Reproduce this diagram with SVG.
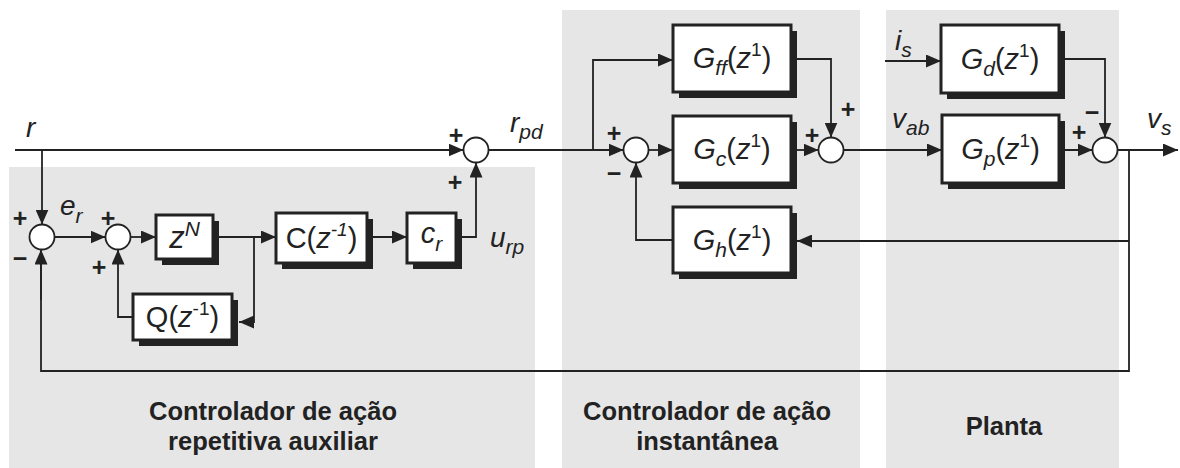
<svg xmlns="http://www.w3.org/2000/svg" width="1180" height="468" viewBox="0 0 1180 468">
<style>
.panel{fill:#e6e6e6}
.ln{fill:none;stroke:#222;stroke-width:1.8}
.arr{fill:none;stroke:#222;stroke-width:1.8;marker-end:url(#ah)}
.sh{fill:#222}
.bx{fill:#fff;stroke:#222;stroke-width:3}
.sj{fill:#fff;stroke:#222;stroke-width:1.8}
text{font-family:"Liberation Sans",Arial,sans-serif;fill:#222}
.bt{font-size:29px}
.it{font-style:italic}
.sub{font-size:21px;font-style:italic}
.sup{font-size:19px}
.lab{font-size:28px;font-style:italic}
.sg{font-size:25px;font-weight:bold}
.cap{font-size:25.5px;font-weight:bold;text-anchor:middle}
</style>
<defs>
<marker id="ah" markerUnits="userSpaceOnUse" markerWidth="15" markerHeight="13" refX="15" refY="6.5" orient="auto">
<path d="M0,0 L15,6.5 L0,13 Z" fill="#222"/>
</marker>
</defs>
<g id="panels">
<rect class="panel" x="9" y="167" width="526" height="301"/>
<rect class="panel" x="562" y="10" width="298" height="458"/>
<rect class="panel" x="886" y="10" width="233" height="458"/>
<text class="cap" x="273" y="420">Controlador de ação</text>
<text class="cap" x="273" y="450">repetitiva auxiliar</text>
<text class="cap" x="707" y="420">Controlador de ação</text>
<text class="cap" x="707" y="450">instantânea</text>
<text class="cap" x="1004" y="435">Planta</text>
</g>
<g id="connectors">
<path class="arr" d="M15,150 H463.5"/>
<path class="arr" d="M42,150 V224.5"/>
<path class="arr" d="M54.5,237 H105.5"/>
<path class="arr" d="M130.5,237 H156"/>
<path class="arr" d="M213,237 H276"/>
<path class="arr" d="M254,237 V322 H239"/>
<path class="arr" d="M133,317 H118 V249.5"/>
<path class="arr" d="M367,237 H407"/>
<path class="arr" d="M456,237 H476 V162.5"/>
<path class="arr" d="M488.5,150 H623.5"/>
<path class="arr" d="M593,150 V60 H673"/>
<path class="arr" d="M648.5,150 H673"/>
<path class="arr" d="M791,59 H831 V137.5"/>
<path class="arr" d="M791,150 H818.5"/>
<path class="arr" d="M843.5,150 H942"/>
<path class="arr" d="M885,61 H941"/>
<path class="arr" d="M1059,59 H1105 V137.5"/>
<path class="arr" d="M1059,150 H1092.5"/>
<path class="arr" d="M1117.5,150 H1178"/>
<path class="ln" d="M1129,150 V371 H41 V262"/>
<path class="arr" d="M41,300 V249.5"/>
<path class="arr" d="M1129,241 H797"/>
<path class="arr" d="M673,240 H636 V162.5"/>
</g>
<g id="S1"><circle class="sj" cx="42" cy="237" r="12.5"/>
<text class="sg" x="20" y="227" text-anchor="middle">+</text>
<text class="sg" x="20" y="267" text-anchor="middle">−</text></g>
<g id="S2"><circle class="sj" cx="118" cy="237" r="12.5"/>
<text class="sg" x="108" y="227" text-anchor="middle">+</text>
<text class="sg" x="99" y="276" text-anchor="middle">+</text></g>
<g id="S3"><circle class="sj" cx="476" cy="150" r="12.5"/>
<text class="sg" x="456" y="144" text-anchor="middle">+</text>
<text class="sg" x="455" y="191" text-anchor="middle">+</text></g>
<g id="S4"><circle class="sj" cx="636" cy="150" r="12.5"/>
<text class="sg" x="614" y="142" text-anchor="middle">+</text>
<text class="sg" x="614" y="182" text-anchor="middle">−</text></g>
<g id="S5"><circle class="sj" cx="831" cy="150" r="12.5"/>
<text class="sg" x="812" y="144" text-anchor="middle">+</text>
<text class="sg" x="848" y="118" text-anchor="middle">+</text></g>
<g id="S6"><circle class="sj" cx="1105" cy="150" r="12.5"/>
<text class="sg" x="1079" y="141" text-anchor="middle">+</text>
<text class="sg" x="1092" y="121" text-anchor="middle">−</text></g>
<g id="zN"><rect class="sh" x="162" y="221" width="57" height="44"/><rect class="bx" x="156" y="215" width="57" height="44"/>
<text x="184.5" y="248" text-anchor="middle" style="font-size:31px"><tspan class="it">z</tspan><tspan class="it" style="font-size:21px" dy="-12">N</tspan></text></g>
<g id="C"><rect class="sh" x="282" y="219" width="91" height="50"/><rect class="bx" x="276" y="213" width="91" height="50"/>
<text class="bt" x="321.5" y="248" text-anchor="middle">C(<tspan class="it">z</tspan><tspan class="sup it" dy="-12">-1</tspan><tspan dy="12">)</tspan></text></g>
<g id="cr"><rect class="sh" x="413" y="219" width="49" height="50"/><rect class="bx" x="407" y="213" width="49" height="50"/>
<text class="bt" x="431.5" y="243" text-anchor="middle"><tspan class="it">c</tspan><tspan class="sub" dy="8">r</tspan></text></g>
<g id="Q"><rect class="sh" x="139" y="300" width="99" height="46"/><rect class="bx" x="133" y="294" width="99" height="46"/>
<text class="bt" x="182.5" y="327" text-anchor="middle">Q(<tspan class="it">z</tspan><tspan class="sup" dy="-12">-1</tspan><tspan dy="12">)</tspan></text></g>
<g id="Gff"><rect class="sh" x="679" y="31" width="118" height="67"/><rect class="bx" x="673" y="25" width="118" height="67"/>
<text class="bt" x="732" y="68" text-anchor="middle"><tspan class="it">G</tspan><tspan class="sub" dy="7">ff</tspan><tspan dy="-7">(</tspan><tspan class="it">z</tspan><tspan class="sup" dy="-12">1</tspan><tspan dy="12">)</tspan></text></g>
<g id="Gc"><rect class="sh" x="679" y="122" width="118" height="67"/><rect class="bx" x="673" y="116" width="118" height="67"/>
<text class="bt" x="732" y="159" text-anchor="middle"><tspan class="it">G</tspan><tspan class="sub" dy="7">c</tspan><tspan dy="-7">(</tspan><tspan class="it">z</tspan><tspan class="sup" dy="-12">1</tspan><tspan dy="12">)</tspan></text></g>
<g id="Gh"><rect class="sh" x="679" y="213" width="118" height="66"/><rect class="bx" x="673" y="207" width="118" height="66"/>
<text class="bt" x="732" y="250" text-anchor="middle"><tspan class="it">G</tspan><tspan class="sub" dy="7">h</tspan><tspan dy="-7">(</tspan><tspan class="it">z</tspan><tspan class="sup" dy="-12">1</tspan><tspan dy="12">)</tspan></text></g>
<g id="Gd"><rect class="sh" x="947" y="31" width="118" height="68"/><rect class="bx" x="941" y="25" width="118" height="68"/>
<text class="bt" x="1000" y="69" text-anchor="middle"><tspan class="it">G</tspan><tspan class="sub" dy="7">d</tspan><tspan dy="-7">(</tspan><tspan class="it">z</tspan><tspan class="sup" dy="-12">1</tspan><tspan dy="12">)</tspan></text></g>
<g id="Gp"><rect class="sh" x="948" y="121" width="117" height="68"/><rect class="bx" x="942" y="115" width="117" height="68"/>
<text class="bt" x="1000.5" y="159" text-anchor="middle"><tspan class="it">G</tspan><tspan class="sub" dy="7">p</tspan><tspan dy="-7">(</tspan><tspan class="it">z</tspan><tspan class="sup" dy="-12">1</tspan><tspan dy="12">)</tspan></text></g>
<g id="labels">
<text class="lab" x="26" y="137">r</text>
<text class="lab" x="60" y="215">e<tspan class="sub" dy="8">r</tspan></text>
<text class="lab" x="510" y="132">r<tspan class="sub" dy="7">pd</tspan></text>
<text class="lab" x="490" y="247">u<tspan class="sub" dy="7">rp</tspan></text>
<text class="lab" x="895" y="50">i<tspan class="sub" dy="7">s</tspan></text>
<text class="lab" x="892" y="128">v<tspan class="sub" dy="7">ab</tspan></text>
<text class="lab" x="1147" y="128">v<tspan class="sub" dy="7">s</tspan></text>
</g>
</svg>
